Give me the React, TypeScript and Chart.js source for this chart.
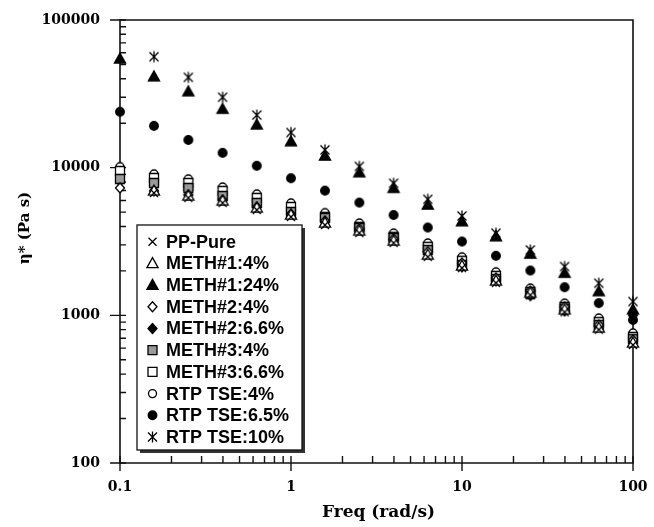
import React, { useEffect, useRef } from 'react';
import { Chart, registerables } from 'chart.js';

Chart.register(...registerables);

// ---- data ----
const FREQ = [0.1, 0.158, 0.251, 0.398, 0.631, 1, 1.58, 2.51, 3.98, 6.31, 10, 15.8, 25.1, 39.8, 63.1, 100];

const PP_PURE = [null, 6740, 6240, 5770, 5170, 4640, 4090, 3610, 3090, 2490, 2090, 1660, 1370, 1050, 800, 630];
const METH1_4 = [null, 6960, 6430, 5950, 5330, 4780, 4220, 3730, 3190, 2560, 2160, 1710, 1420, 1090, 820, 650];
const METH1_24 = [54500, 41300, 32700, 24900, 19500, 15000, 12000, 9250, 7250, 5590, 4310, 3410, 2600, 1930, 1450, 1090];
const METH2_4 = [7290, 6960, 6540, 6040, 5420, 4860, 4360, 3850, 3290, 2690, 2260, 1790, 1460, 1140, 860, 680];
const METH2_66 = [8100, 7650, 7080, 6250, 5600, 4870, 4430, 3800, 3250, 2690, 2130, 1710, 1360, 1070, 840, 1000];
const METH3_4 = [8390, 7880, 7290, 6430, 5770, 5010, 4570, 3910, 3340, 2770, 2190, 1760, 1400, 1110, 860, 690];
const METH3_66 = [9500, 8520, 7880, 6960, 6240, 5420, 4640, 3970, 3400, 2910, 2340, 1850, 1440, 1140, 900, 714];
const RTP_4 = [10160, 9070, 8390, 7400, 6640, 5770, 4960, 4220, 3610, 3090, 2490, 1970, 1530, 1210, 960, 760];
const RTP_65 = [23900, 19200, 15400, 12600, 10300, 8480, 6990, 5800, 4780, 3930, 3160, 2530, 2010, 1550, 1210, 930];
const RTP_10 = [null, 56400, 40900, 30000, 22700, 17300, 13200, 10200, 7840, 6110, 4710, 3600, 2770, 2140, 1650, 1240];

const SERIES_LABELS = [
  'PP-Pure', 'METH#1:4%', 'METH#1:24%', 'METH#2:4%', 'METH#2:6.6%',
  'METH#3:4%', 'METH#3:6.6%', 'RTP TSE:4%', 'RTP TSE:6.5%', 'RTP TSE:10%',
];
const SERIES_VALUES = [PP_PURE, METH1_4, METH1_24, METH2_4, METH2_66, METH3_4, METH3_66, RTP_4, RTP_65, RTP_10];
const SERIES_MARKERS = ['x', 'triO', 'triF', 'diaO', 'diaF', 'sqG', 'sqO', 'cirO', 'cirF', 'ast'];
const SERIES_ORDER = [0, 1, 2, 3, 10, 5, 6, 7, 8, 9];

const X_TICKS = [0.1, 1, 10, 100];
const X_TICK_LABELS = ['0.1', '1', '10', '100'];
const Y_TICKS = [100, 1000, 10000, 100000];
const Y_TICK_LABELS = ['100', '1000', '10000', '100000'];

const X_TITLE = 'Freq (rad/s)';
const Y_TITLE = 'η* (Pa s)';

// ---- markers ----
function drawMarker(ctx: CanvasRenderingContext2D, kind: string, cx: number, cy: number) {
  ctx.save();
  ctx.lineWidth = 1.3;
  ctx.strokeStyle = '#000';
  ctx.lineJoin = 'miter';
  const tri = () => {
    ctx.beginPath();
    ctx.moveTo(cx, cy - 5.8);
    ctx.lineTo(cx + 5.6, cy + 4.2);
    ctx.lineTo(cx - 5.6, cy + 4.2);
    ctx.closePath();
  };
  const dia = () => {
    ctx.beginPath();
    ctx.moveTo(cx, cy - 5);
    ctx.lineTo(cx + 4.5, cy);
    ctx.lineTo(cx, cy + 5);
    ctx.lineTo(cx - 4.5, cy);
    ctx.closePath();
  };
  switch (kind) {
    case 'x':
      ctx.beginPath();
      ctx.moveTo(cx - 4, cy - 4); ctx.lineTo(cx + 4, cy + 4);
      ctx.moveTo(cx + 4, cy - 4); ctx.lineTo(cx - 4, cy + 4);
      ctx.stroke();
      break;
    case 'ast':
      ctx.beginPath();
      ctx.moveTo(cx - 4.5, cy - 4.5); ctx.lineTo(cx + 4.5, cy + 4.5);
      ctx.moveTo(cx + 4.5, cy - 4.5); ctx.lineTo(cx - 4.5, cy + 4.5);
      ctx.moveTo(cx, cy - 5.5); ctx.lineTo(cx, cy + 5.5);
      ctx.stroke();
      break;
    case 'triO': tri(); ctx.fillStyle = '#fff'; ctx.fill(); ctx.stroke(); break;
    case 'triF': tri(); ctx.fillStyle = '#000'; ctx.fill(); ctx.stroke(); break;
    case 'diaO': dia(); ctx.fillStyle = '#fff'; ctx.fill(); ctx.stroke(); break;
    case 'diaF': dia(); ctx.fillStyle = '#000'; ctx.fill(); ctx.stroke(); break;
    case 'sqG':
      ctx.beginPath(); ctx.rect(cx - 4.5, cy - 4.5, 9, 9);
      ctx.fillStyle = '#9a9a9a'; ctx.fill(); ctx.stroke(); break;
    case 'sqO':
      ctx.beginPath(); ctx.rect(cx - 4.5, cy - 4.5, 9, 9);
      ctx.fillStyle = '#fff'; ctx.fill(); ctx.stroke(); break;
    case 'cirO':
      ctx.beginPath(); ctx.arc(cx, cy, 4, 0, Math.PI * 2);
      ctx.fillStyle = '#fff'; ctx.fill(); ctx.stroke(); break;
    case 'cirF':
      ctx.beginPath(); ctx.arc(cx, cy, 4.3, 0, Math.PI * 2);
      ctx.fillStyle = '#000'; ctx.fill(); ctx.stroke(); break;
  }
  ctx.restore();
}

function makeMarkerCanvas(kind: string): HTMLCanvasElement {
  const c = document.createElement('canvas');
  c.width = 16; c.height = 16;
  const ctx = c.getContext('2d')!;
  drawMarker(ctx, kind, 8, 8);
  return c;
}

// ---- plugin: axes frame, ticks, titles, legend ----
const decorPlugin = {
  id: 'decor',
  beforeDatasetsDraw(chart: any) {
    const { ctx, chartArea, scales } = chart;
    const { left, right, top, bottom } = chartArea;
    const xs = scales.x, ys = scales.y;
    ctx.save();
    ctx.strokeStyle = '#111';
    ctx.lineWidth = 1.6;
    ctx.beginPath();
    ctx.moveTo(left, top); ctx.lineTo(right, top); ctx.lineTo(right, bottom);
    ctx.lineTo(left, bottom); ctx.closePath();
    ctx.stroke();
    ctx.lineWidth = 1.4;
    ctx.beginPath();
    for (let i = 0; i < X_TICKS.length; i++) {
      const px = xs.getPixelForValue(X_TICKS[i]);
      ctx.moveTo(px, bottom - 7); ctx.lineTo(px, bottom + 8);
      if (i < X_TICKS.length - 1) {
        for (let k = 2; k <= 9; k++) {
          const mx = xs.getPixelForValue(X_TICKS[i] * k);
          ctx.moveTo(mx, bottom); ctx.lineTo(mx, bottom - 7);
        }
      }
    }
    for (let i = 0; i < Y_TICKS.length; i++) {
      const py = ys.getPixelForValue(Y_TICKS[i]);
      ctx.moveTo(left - 10, py); ctx.lineTo(left + 6, py);
      if (i < Y_TICKS.length - 1) {
        for (let k = 2; k <= 9; k++) {
          const my = ys.getPixelForValue(Y_TICKS[i] * k);
          ctx.moveTo(left, my); ctx.lineTo(left + 6, my);
        }
      }
    }
    ctx.stroke();
    ctx.restore();
  },
  afterDraw(chart: any) {
    const { ctx, chartArea } = chart;
    const { left, right } = chartArea;
    ctx.save();
    ctx.fillStyle = '#000';
    ctx.textAlign = 'center';
    ctx.textBaseline = 'middle';
    ctx.font = 'bold 17px "DejaVu Serif"';
    ctx.fillText(X_TITLE, (left + right) / 2 + 2, 513);
    ctx.save();
    ctx.translate(25, 228);
    ctx.rotate(-Math.PI / 2);
    ctx.font = 'bold 15px "DejaVu Serif"';
    ctx.fillText(Y_TITLE, 0, 0);
    ctx.restore();

    const lx = 137, ly = 225, lw = 165, lh = 225;
    ctx.fillStyle = '#333';
    ctx.fillRect(lx + 3, ly + 3, lw, lh);
    ctx.fillStyle = '#fff';
    ctx.fillRect(lx, ly, lw, lh);
    ctx.strokeStyle = '#111';
    ctx.lineWidth = 1.3;
    ctx.strokeRect(lx, ly, lw, lh);
    ctx.font = 'bold 18px "Liberation Sans", Arial, sans-serif';
    ctx.textAlign = 'left';
    ctx.textBaseline = 'middle';
    for (let i = 0; i < SERIES_LABELS.length; i++) {
      const cy = 241.7 + i * 21.7;
      drawMarker(ctx, SERIES_MARKERS[i], 152.5, cy);
      ctx.fillStyle = '#000';
      ctx.fillText(SERIES_LABELS[i], 166, cy + 1);
    }
    ctx.restore();
  },
};

export default function App() {
  const ref = useRef<HTMLCanvasElement | null>(null);
  useEffect(() => {
    if (!ref.current) return;
    const datasets = SERIES_LABELS.map((label, i) => ({
      label,
      data: FREQ.map((f, j) => ({ x: f, y: SERIES_VALUES[i][j] }))
        .filter((p) => p.y !== null),
      pointStyle: makeMarkerCanvas(SERIES_MARKERS[i]),
      pointRadius: 5,
      showLine: false,
      order: SERIES_ORDER[i],
      clip: false as any,
    }));
    const tickFont = { family: 'DejaVu Serif', size: 14, weight: 'bold' as const };
    const chart = new Chart(ref.current, {
      type: 'scatter',
      data: { datasets: datasets as any },
      options: {
        responsive: false,
        animation: false,
        events: [],
        layout: { padding: { left: 0, right: 21, top: 20, bottom: 0 } },
        plugins: { legend: { display: false }, tooltip: { enabled: false } },
        scales: {
          x: {
            type: 'logarithmic',
            min: 0.1,
            max: 100,
            grid: { display: true, drawOnChartArea: false, drawTicks: true, tickLength: 16, color: 'rgba(0,0,0,0)' },
            border: { display: false },
            afterBuildTicks: (s: any) => { s.ticks = X_TICKS.map((v) => ({ value: v })); },
            afterFit: (s: any) => { s.height = 64; },
            ticks: {
              autoSkip: false,
              maxRotation: 0,
              padding: 0,
              color: '#000',
              font: tickFont,
              callback: (_v: any, idx: number) => X_TICK_LABELS[idx],
            },
          },
          y: {
            type: 'logarithmic',
            min: 100,
            max: 100000,
            grid: { display: true, drawOnChartArea: false, drawTicks: true, tickLength: 20, color: 'rgba(0,0,0,0)' },
            border: { display: false },
            afterBuildTicks: (s: any) => { s.ticks = Y_TICKS.map((v) => ({ value: v })); },
            afterFit: (s: any) => { s.width = 120; },
            ticks: {
              autoSkip: false,
              padding: 0,
              color: '#000',
              font: tickFont,
              callback: (_v: any, idx: number) => Y_TICK_LABELS[idx],
            },
          },
        },
      },
      plugins: [decorPlugin],
    });
    return () => chart.destroy();
  }, []);
  return (
    <div style={{ position: 'fixed', left: 0, top: 0, width: 654, height: 527, background: '#fff' }}>
      <canvas ref={ref} width={654} height={527} style={{ display: 'block' }} />
    </div>
  );
}
